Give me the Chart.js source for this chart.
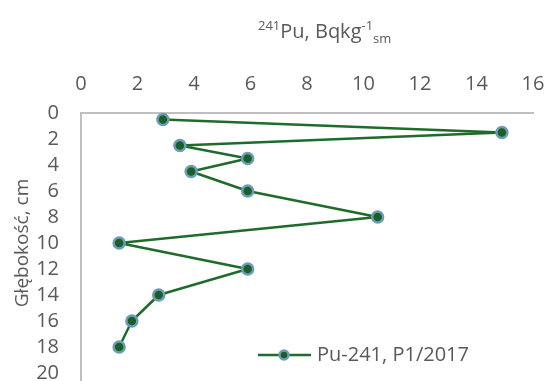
<!DOCTYPE html>
<html>
<head>
<meta charset="utf-8">
<script src="https://cdn.jsdelivr.net/npm/chart.js@4/dist/chart.umd.min.js"></script>
<style>
  html, body { margin: 0; padding: 0; background: #fff; overflow: hidden; }
  #wrap { position: relative; width: 546px; height: 381px; }
  canvas { display: block; }
</style>
</head>
<body>
<div id="wrap"><canvas id="myChart"></canvas></div>
<script>
// Pu-241 activity vs depth, profile P1/2017
const depth = [0.5, 1.5, 2.5, 3.5, 4.5, 6, 8, 10, 12, 14, 16, 18];
const activity = [2.9, 14.9, 3.5, 5.9, 3.9, 5.9, 10.5, 1.35, 5.9, 2.75, 1.8, 1.35];
const seriesLabel = "Pu-241, P1/2017";
const xTicks = [0, 2, 4, 6, 8, 10, 12, 14, 16];
const yTicks = [0, 2, 4, 6, 8, 10, 12, 14, 16, 18, 20];

const lineColor = "#1e6b2b";
const markerFill = "#1b5e27";
const markerEdge = "#6b9db6";
const textColor = "#595959";
const axisColor = "#bfbfbf";
const font = "'Open Sans', 'Noto Sans', sans-serif";

// title with super/subscripts, legend inside plot, axis line running to the bottom
const extras = {
  id: "extras",
  afterDraw(chart) {
    const ctx = chart.ctx;
    const a = chart.chartArea;
    ctx.save();

    ctx.strokeStyle = axisColor;
    ctx.lineWidth = 2;
    ctx.beginPath();
    ctx.moveTo(a.left, a.bottom);
    ctx.lineTo(a.left, chart.height);
    ctx.stroke();

    ctx.fillStyle = textColor;
    ctx.textBaseline = "alphabetic";
    let x = 258;
    const base = 38;
    const parts = [
      ["241", 13, -8],
      ["Pu, Bqkg", 20, 0],
      ["-1", 13, -8],
      ["sm", 13, 5]
    ];
    parts.forEach(([t, s, dy]) => {
      ctx.font = s + "px " + font;
      ctx.fillText(t, x, base + dy);
      x += ctx.measureText(t).width;
    });

    // legend
    const ly = 355;
    ctx.strokeStyle = lineColor;
    ctx.lineWidth = 2.5;
    ctx.beginPath();
    ctx.moveTo(258, ly);
    ctx.lineTo(311, ly);
    ctx.stroke();
    ctx.beginPath();
    ctx.arc(284, ly, 4.5, 0, Math.PI * 2);
    ctx.fillStyle = markerFill;
    ctx.fill();
    ctx.strokeStyle = markerEdge;
    ctx.lineWidth = 2.5;
    ctx.stroke();
    ctx.fillStyle = textColor;
    ctx.font = "20px " + font;
    ctx.textBaseline = "middle";
    ctx.fillText(seriesLabel, 317, ly);
    ctx.restore();
  }
};

const noPad = (s) => { s.paddingLeft = 0; s.paddingRight = 0; s.paddingTop = 0; s.paddingBottom = 0; };

new Chart(document.getElementById("myChart"), {
  type: "scatter",
  data: {
    datasets: [{
      label: seriesLabel,
      data: depth.map((d, i) => ({ x: activity[i], y: d })),
      showLine: true,
      borderColor: lineColor,
      borderWidth: 2.5,
      borderJoinStyle: "round",
      borderCapStyle: "round",
      pointRadius: 5.5,
      pointBorderWidth: 2.5,
      pointBackgroundColor: markerFill,
      pointBorderColor: markerEdge,
      tension: 0
    }]
  },
  options: {
    responsive: true,
    maintainAspectRatio: false,
    animation: false,
    layout: { padding: { left: 0, right: 13, top: 0, bottom: 8 } },
    plugins: { legend: { display: false }, tooltip: { enabled: false } },
    scales: {
      x: {
        position: "top",
        min: 0, max: 16,
        afterBuildTicks: (s) => { s.ticks = xTicks.map(v => ({ value: v })); },
        afterFit: (s) => { s.height = 113; noPad(s); },
        grid: { display: false, drawTicks: false },
        border: { display: true, color: axisColor, width: 2 },
        ticks: { color: textColor, font: { family: font, size: 20 }, padding: 17, maxRotation: 0, autoSkip: false }
      },
      y: {
        reverse: true,
        min: 0, max: 20,
        afterBuildTicks: (s) => { s.ticks = yTicks.map(v => ({ value: v })); },
        afterFit: (s) => { s.width = 81; noPad(s); },
        grid: { display: false, drawTicks: false },
        border: { display: true, color: axisColor, width: 2 },
        ticks: { color: textColor, font: { family: font, size: 20 }, padding: 22, autoSkip: false },
        title: { display: true, text: "Głębokość, cm", color: textColor, font: { family: font, size: 19 }, padding: { top: 11, bottom: 0 } }
      }
    }
  },
  plugins: [extras]
});
</script>
</body>
</html>
